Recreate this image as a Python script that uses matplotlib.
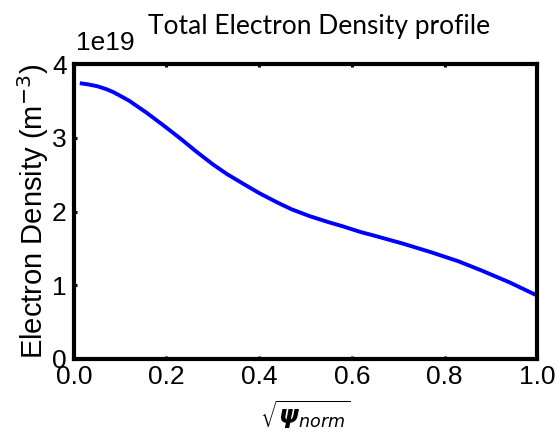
import matplotlib
matplotlib.use("Agg")
import matplotlib.pyplot as plt
import numpy as np

rho = [0.013, 0.03, 0.05, 0.07, 0.085, 0.10, 0.12, 0.157, 0.193, 0.23,
       0.265, 0.30, 0.33, 0.366, 0.40, 0.44, 0.47, 0.51, 0.55, 0.58,
       0.62, 0.65, 0.71, 0.77, 0.83, 0.88, 0.94, 1.00]
ne = [3.74, 3.725, 3.70, 3.66, 3.62, 3.57, 3.50, 3.34, 3.17, 2.99,
      2.81, 2.64, 2.51, 2.375, 2.25, 2.12, 2.03, 1.935, 1.855, 1.80,
      1.72, 1.67, 1.565, 1.45, 1.325, 1.20, 1.04, 0.86]
scale = 1e19
xticks = [0.0, 0.2, 0.4, 0.6, 0.8, 1.0]
yticks = [0, 1, 2, 3, 4]

plt.rcParams['font.family'] = ['Liberation Sans', 'DejaVu Sans']
plt.rcParams['mathtext.fontset'] = 'dejavusans'

fig = plt.figure(figsize=(5.59, 4.37), dpi=100)
ax = fig.add_axes([0.132, 0.1785, 0.829, 0.675])
ax.plot(rho, np.array(ne) * scale, color='#0000ff', lw=2.8,
        solid_joinstyle='round', solid_capstyle='butt')
ax.set_xlim(0, 1)
ax.set_ylim(0, 4e19)
ax.set_xticks(xticks)
ax.set_xticklabels([f"{v:.1f}" for v in xticks])
ax.set_yticks([v * scale for v in yticks])
ax.set_yticklabels([str(v) for v in yticks])
ax.tick_params(direction='in', length=2.5, width=2.2, labelsize=19,
               top=True, right=False)
ax.tick_params(axis='x', pad=4)
ax.tick_params(axis='y', pad=5)
for s in ax.spines.values():
    s.set_linewidth(3)
ax.text(0.005, 1.03, '1e19', transform=ax.transAxes, fontsize=19,
        ha='left', va='bottom')
ax.set_ylabel('Electron Density (m$^{-3}$)', fontsize=21)
ax.yaxis.set_label_coords(-0.05, 0.5)
ax.set_xlabel(r'$\sqrt{\boldsymbol{\psi}_{norm}}$', fontsize=18)
ax.xaxis.set_label_coords(0.5, -0.135)
fig.text(0.571, 1 - 34 / 437, 'Total Electron Density profile', fontsize=19,
         family='Lato', ha='center', va='baseline')
fig.savefig('out.png', dpi=100)
